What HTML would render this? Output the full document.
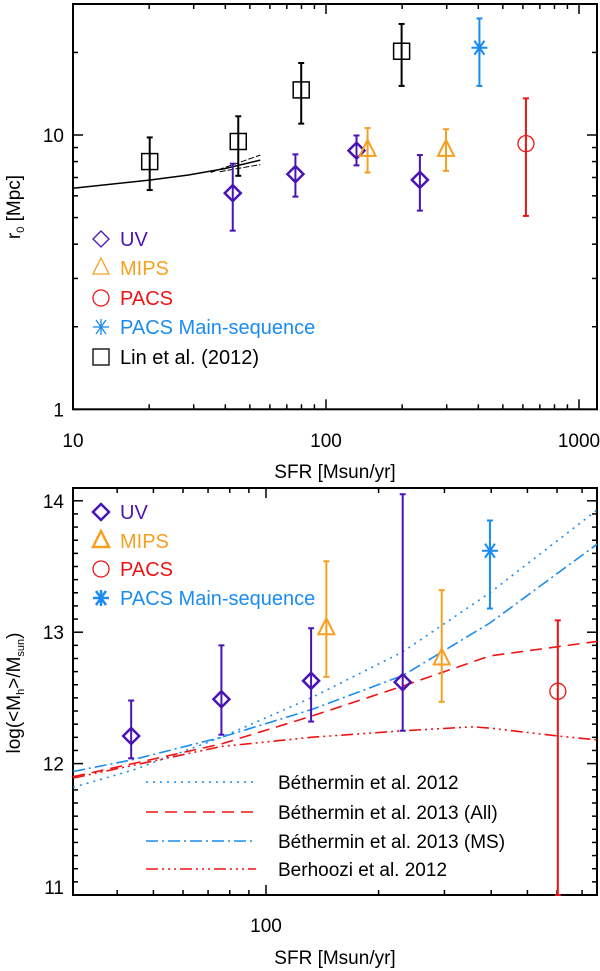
<!DOCTYPE html>
<html><head><meta charset="utf-8"><style>
html,body{margin:0;padding:0;background:#fff;}
svg{display:block;font-family:"Liberation Sans",Arial,sans-serif;}
</style></head><body>
<svg id="fig" width="600" height="971" viewBox="0 0 600 971" xmlns="http://www.w3.org/2000/svg"></svg>
<script>
// ---------- TOP PANEL DATA ----------
const uvSfrTop=[42.8,75.7,132,235];
const uvR=[6.14,7.2,8.77,6.86];
const uvRlo=[4.48,5.96,7.75,5.3];
const uvRhi=[7.86,8.5,9.96,8.45];
const mipsSfrTop=[146,298];
const mipsR=[8.83,8.83];
const mipsRlo=[7.3,7.4];
const mipsRhi=[10.6,10.5];
const pacsSfrTop=[617];
const pacsR=[9.3];
const pacsRlo=[5.07];
const pacsRhi=[13.6];
const msSfrTop=[404];
const msR=[20.8];
const msRlo=[15.1];
const msRhi=[26.6];
const linSfr=[20.1,45,79.8,199];
const linR=[8.0,9.47,14.6,20.2];
const linRlo=[6.3,7.1,11.0,15.1];
const linRhi=[9.8,11.7,18.3,25.4];
const modelSfrTop=[10,20,28.6,40,55];
const modelRTop=[6.4,6.85,7.15,7.55,8.1];
const modelUpSfr=[35,55];
const modelUpR=[7.3,8.45];
const modelLoSfr=[38,55];
const modelLoR=[7.35,7.8];
const topXTicks=[10,100,1000];
const topYTicks=[1,10];

// ---------- BOTTOM PANEL DATA ----------
const uvSfrBot=[43.6,76,132,232];
const uvM=[12.21,12.49,12.63,12.62];
const uvMlo=[12.04,12.22,12.32,12.25];
const uvMhi=[12.48,12.9,13.03,14.05];
const mipsSfrBot=[145,295];
const mipsM=[13.03,12.8];
const mipsMlo=[12.66,12.47];
const mipsMhi=[13.54,13.32];
const msSfrBot=[397];
const msM=[13.62];
const msMlo=[13.18];
const msMhi=[13.85];
const pacsSfrBot=[603];
const pacsM=[12.55];
const pacsMlo=[11.0];
const pacsMhi=[13.09];
const curveSfr=[30.5,44,76,132,232,397,768];
const beth12=[11.82,11.95,12.2,12.5,12.85,13.3,13.93];
const beth13ms=[11.94,12.03,12.2,12.41,12.67,13.07,13.67];
const beth13all=[11.9,12.0,12.15,12.36,12.59,12.82,12.93];
const behrSfr=[30.5,76,132,232,357,397,603,768];
const behr=[11.89,12.13,12.2,12.25,12.28,12.27,12.21,12.18];
const botYTicks=[11,12,13,14];
const botXTicks=[100];

const C={uv:"#4a14b4",mips:"#f5a020",pacs:"#ee1414",ms:"#1a8cf0",blk:"#000"};
const NS="http://www.w3.org/2000/svg";
const svg=document.getElementById('fig');
function el(tag,attrs,parent){const e=document.createElementNS(NS,tag);for(const k in attrs)e.setAttribute(k,attrs[k]);(parent||svg).appendChild(e);return e;}

// axis functions
const T={x0:73,x1:597,y0:4,y1:409.3};
function txT(v){return T.x0+253*(Math.log10(v)-1);}
function tyT(v){return T.y1-274.3*Math.log10(v);}
const B={x0:73,x1:597,y0:488,y1:895};
function txB(v){return 266+374*(Math.log10(v)-2);}
function tyB(v){return 895-131.4*(v-11);}

function errbar(g,x,ylo,yhi,col,w){
  el('line',{x1:x,y1:ylo,x2:x,y2:yhi,stroke:col,'stroke-width':w},g);
  el('line',{x1:x-3,y1:ylo,x2:x+3,y2:ylo,stroke:col,'stroke-width':w},g);
  el('line',{x1:x-3,y1:yhi,x2:x+3,y2:yhi,stroke:col,'stroke-width':w},g);
}
function marker(g,type,x,y,col,w){
  if(type==='diamond')el('polygon',{points:`${x},${y-8} ${x+8},${y} ${x},${y+8} ${x-8},${y}`,fill:'none',stroke:col,'stroke-width':w},g);
  else if(type==='tri')el('polygon',{points:`${x},${y-10} ${x+8},${y+6} ${x-8},${y+6}`,fill:'none',stroke:col,'stroke-width':w},g);
  else if(type==='circle')el('circle',{cx:x,cy:y,r:8,fill:'none',stroke:col,'stroke-width':1.3},g);
  else if(type==='square')el('rect',{x:x-8,y:y-8,width:16,height:16,fill:'none',stroke:col,'stroke-width':w},g);
  else if(type==='star'){
    el('line',{x1:x-8,y1:y,x2:x+8,y2:y,stroke:col,'stroke-width':w},g);
    el('line',{x1:x-5,y1:y-7,x2:x+5,y2:y+7,stroke:col,'stroke-width':w},g);
    el('line',{x1:x-5,y1:y+7,x2:x+5,y2:y-7,stroke:col,'stroke-width':w},g);
    el('line',{x1:x,y1:y-8,x2:x,y2:y+8,stroke:col,'stroke-width':w},g);
  }
}
function series(name,xs,ys,lo,hi,tx,ty,type,col,w){
  const g=el('g',{});
  
  
  for(let i=0;i<xs.length;i++){
    errbar(g,tx(xs[i]),ty(lo[i]),ty(hi[i]),col,2);
    marker(g,type,tx(xs[i]),ty(ys[i]),col,w);
  }
}
function polyline(name,xs,ys,tx,ty,col,dash,w){
  const p=xs.map((v,i)=>tx(v).toFixed(1)+','+ty(ys[i]).toFixed(1)).join(' ');
  const e=el('polyline',{points:p,fill:'none',stroke:col,'stroke-width':w||1.5,'stroke-dasharray':dash||'none'});
  
  
}
function text(name,x,y,s,opts){
  const t=el('text',Object.assign({x:x,y:y,'font-size':19,fill:'#000'},opts||{}));
  t.textContent=s;
  
  
  return t;
}

// ---------- TOP PANEL ----------
(function(){
  const frame=el('rect',{x:T.x0,y:T.y0,width:T.x1-T.x0,height:T.y1-T.y0,fill:'none',stroke:'#000','stroke-width':2});
  
  
  const g=el('g',{stroke:'#000','stroke-width':1.5});
  
  
  for(let d=1;d<=3;d++)for(let k=1;k<=9;k++){const v=k*Math.pow(10,d);const x=txT(v);if(x>T.x1)continue;const L=k===1?10:5;
    el('line',{x1:x,y1:T.y1,x2:x,y2:T.y1-L},g);el('line',{x1:x,y1:T.y0,x2:x,y2:T.y0+L},g);}
  for(let d=0;d<=1;d++)for(let k=1;k<=9;k++){const v=k*Math.pow(10,d);const y=tyT(v);if(y<T.y0)continue;const L=k===1?10:5;
    el('line',{x1:T.x0,y1:y,x2:T.x0+L,y2:y},g);el('line',{x1:T.x1,y1:y,x2:T.x1-L,y2:y},g);}
  topXTicks.forEach(v=>text('top-x-tick-label',txT(v),447,String(v),{'text-anchor':'middle'}));
  topYTicks.forEach(v=>text('top-y-tick-label',64,tyT(v)+7,String(v),{'text-anchor':'end'}));
  text('top-x-axis-title',335,478,'SFR [Msun/yr]',{'text-anchor':'middle'});
  const yt=el('text',{x:0,y:0,'font-size':19,'text-anchor':'middle',transform:'translate(20,207) rotate(-90)'});
  
  
  yt.innerHTML='r<tspan font-size="11" dy="4">0</tspan><tspan dy="-4"> [Mpc]</tspan>';

  polyline('model-line-main',modelSfrTop,modelRTop,txT,tyT,'#000','none',1.5);
  polyline('model-line-upper',modelUpSfr,modelUpR,txT,tyT,'#000','6,2',1);
  polyline('model-line-lower',modelLoSfr,modelLoR,txT,tyT,'#000','6,2',1);

  series('lin-2012-points',linSfr,linR,linRlo,linRhi,txT,tyT,'square',C.blk,1.5);
  series('uv-points-top',uvSfrTop,uvR,uvRlo,uvRhi,txT,tyT,'diamond',C.uv,2.5);
  series('mips-points-top',mipsSfrTop,mipsR,mipsRlo,mipsRhi,txT,tyT,'tri',C.mips,2);
  series('pacs-points-top',pacsSfrTop,pacsR,pacsRlo,pacsRhi,txT,tyT,'circle',C.pacs,1.3);
  series('pacs-ms-points-top',msSfrTop,msR,msRlo,msRhi,txT,tyT,'star',C.ms,2);

  const leg=[['diamond',C.uv,'UV'],['tri',C.mips,'MIPS'],['circle',C.pacs,'PACS'],['star',C.ms,'PACS Main-sequence'],['square',C.blk,'Lin et al. (2012)']];
  const ys=[239,268,298,327,357];
  leg.forEach((l,i)=>{const g=el('g',{});
    
    
    marker(g,l[0],101,ys[i],l[1],1.3);
    const t=el('text',{x:120,y:ys[i]+7,'font-size':20,fill:l[1]},g);t.textContent=l[2];});
})();

// ---------- BOTTOM PANEL ----------
(function(){
  const frame=el('rect',{x:B.x0,y:B.y0,width:B.x1-B.x0,height:B.y1-B.y0,fill:'none',stroke:'#000','stroke-width':2});
  
  
  const g=el('g',{stroke:'#000','stroke-width':1.5});
  
  
  for(let d=1;d<=2;d++)for(let k=1;k<=9;k++){const v=k*Math.pow(10,d);const x=txB(v);if(x<B.x0+1||x>B.x1)continue;const L=k===1?10:5;
    el('line',{x1:x,y1:B.y1,x2:x,y2:B.y1-L},g);el('line',{x1:x,y1:B.y0,x2:x,y2:B.y0+L},g);}
  for(let i=0;i<=31;i++){const v=11+i*0.1;const y=tyB(v);if(y<B.y0)continue;const L=(i%10===0)?10:5;
    el('line',{x1:B.x0,y1:y,x2:B.x0+L,y2:y},g);el('line',{x1:B.x1,y1:y,x2:B.x1-L,y2:y},g);}
  botXTicks.forEach(v=>text('bottom-x-tick-label',txB(v),932,String(v),{'text-anchor':'middle'}));
  botYTicks.forEach(v=>text('bottom-y-tick-label',64,Math.min(tyB(v)+7,894),String(v),{'text-anchor':'end'}));
  text('bottom-x-axis-title',335,964,'SFR [Msun/yr]',{'text-anchor':'middle'});
  const yt=el('text',{x:0,y:0,'font-size':19,'text-anchor':'middle',transform:'translate(20,693) rotate(-90)'});
  
  
  yt.innerHTML='log(&lt;M<tspan font-size="11" dy="4">h</tspan><tspan dy="-4">&gt;/M</tspan><tspan font-size="11" dy="4">sun</tspan><tspan dy="-4">)</tspan>';

  polyline('bethermin-2012-line',curveSfr,beth12,txB,tyB,C.ms,'2,5',1.6);
  polyline('bethermin-2013-all-line',curveSfr,beth13all,txB,tyB,C.pacs,'12,7',1.6);
  polyline('bethermin-2013-ms-line',curveSfr,beth13ms,txB,tyB,C.ms,'12,4,2,4',1.6);
  polyline('behroozi-2012-line',behrSfr,behr,txB,tyB,C.pacs,'12,4,2,4,2,4,2,4',1.6);

  series('uv-points-bottom',uvSfrBot,uvM,uvMlo,uvMhi,txB,tyB,'diamond',C.uv,2.5);
  series('mips-points-bottom',mipsSfrBot,mipsM,mipsMlo,mipsMhi,txB,tyB,'tri',C.mips,2);
  series('pacs-ms-points-bottom',msSfrBot,msM,msMlo,msMhi,txB,tyB,'star',C.ms,2);
  series('pacs-points-bottom',pacsSfrBot,pacsM,pacsMlo,pacsMhi,txB,tyB,'circle',C.pacs,1.3);

  const leg=[['diamond',C.uv,'UV'],['tri',C.mips,'MIPS'],['circle',C.pacs,'PACS'],['star',C.ms,'PACS Main-sequence']];
  const ys=[512,541,569,598];
  leg.forEach((l,i)=>{const g=el('g',{});
    
    
    marker(g,l[0],101,ys[i],l[1],l[0]==='circle'?1.3:2.5);
    const t=el('text',{x:120,y:ys[i]+7,'font-size':20,fill:l[1]},g);t.textContent=l[2];});

  const lleg=[[C.ms,'2,5','Béthermin et al. 2012'],[C.pacs,'12,7','Béthermin et al. 2013 (All)'],[C.ms,'12,4,2,4','Béthermin et al. 2013 (MS)'],[C.pacs,'12,4,2,4,2,4,2,4','Berhoozi et al. 2012']];
  const ly=[782,812,841,869];
  lleg.forEach((l,i)=>{const g=el('g',{});
    
    
    el('line',{x1:146,y1:ly[i],x2:256,y2:ly[i],stroke:l[0],'stroke-width':1.6,'stroke-dasharray':l[1]},g);
    const t=el('text',{x:278,y:ly[i]+7,'font-size':19,fill:'#000'},g);t.textContent=l[2];});
})();
</script>
</body></html>
